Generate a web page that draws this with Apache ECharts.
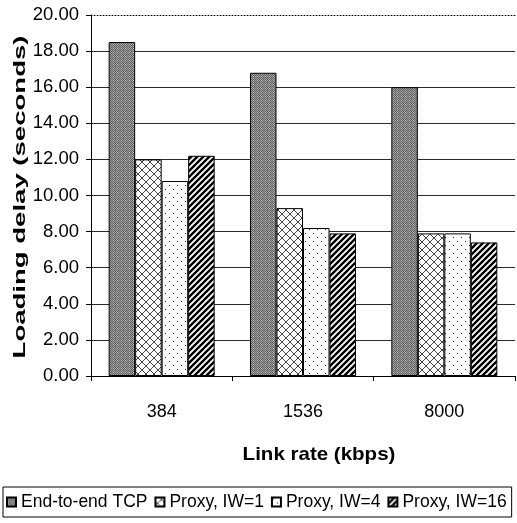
<!DOCTYPE html>
<html>
<head>
<meta charset="utf-8">
<script src="https://cdn.jsdelivr.net/npm/echarts@6/dist/echarts.min.js"></script>
<style>
html,body{margin:0;padding:0;background:#fff;}
#chart{width:517px;height:523px;}
</style>
</head>
<body>
<div id="chart"></div>
<script>
// ---- data ----
const categories = ['384', '1536', '8000'];
const seriesNames = ['End-to-end TCP', 'Proxy, IW=1', 'Proxy, IW=4', 'Proxy, IW=16'];
const endToEndTCP = [18.5, 16.8, 16.0];
const proxyIW1 = [12.0, 9.3, 7.9];
const proxyIW4 = [10.8, 8.2, 7.9];
const proxyIW16 = [12.2, 7.9, 7.4];
const yMin = 0, yMax = 20, yStep = 2;
const yTitle = 'Loading delay (seconds)';
const xTitle = 'Link rate (kbps)';

// ---- patterns ----
function makeTile(w, h, draw) {
  const c = document.createElement('canvas');
  c.width = w; c.height = h;
  const ctx = c.getContext('2d');
  ctx.fillStyle = '#fff';
  ctx.fillRect(0, 0, w, h);
  draw(ctx, w, h);
  return { image: c, repeat: 'repeat' };
}
const patDark = makeTile(4, 4, (ctx) => {
  for (let y = 0; y < 4; y++) for (let x = 0; x < 4; x++) {
    ctx.fillStyle = ((x + y) % 2 === 0) ? '#5e5e5e' : '#a0a0a0';
    ctx.fillRect(x, y, 1, 1);
  }
  ctx.fillStyle = '#d0d0d0';
  ctx.fillRect(1, 0, 1, 1);
});
const patCross = makeTile(8, 8, (ctx) => {
  ctx.strokeStyle = '#444';
  ctx.lineWidth = 1;
  ctx.beginPath();
  ctx.moveTo(0, 8); ctx.lineTo(8, 0);
  ctx.moveTo(0, 4); ctx.lineTo(4, 8);
  ctx.moveTo(4, 0); ctx.lineTo(8, 4);
  ctx.stroke();
});
const patDots = makeTile(8, 8, (ctx) => {
  ctx.fillStyle = '#222';
  ctx.fillRect(1, 1, 1, 1);
  ctx.fillRect(5, 5, 1, 1);
});
const patStripe = makeTile(6, 6, (ctx) => {
  ctx.strokeStyle = '#000';
  ctx.lineWidth = 2.4;
  ctx.beginPath();
  ctx.moveTo(-6, 6); ctx.lineTo(6, -6);
  ctx.moveTo(0, 6); ctx.lineTo(6, 0);
  ctx.moveTo(0, 12); ctx.lineTo(12, 0);
  ctx.stroke();
});
const patterns = [patDark, patCross, patDots, patStripe];
const values = [endToEndTCP, proxyIW1, proxyIW4, proxyIW16];

const FONT = '"Liberation Sans", Arial, sans-serif';

const chart = echarts.init(document.getElementById('chart'), null, { renderer: 'canvas' });
chart.setOption({
  animation: false,
  backgroundColor: '#fff',
  grid: { left: 91, top: 15, width: 424, height: 361, containLabel: false },
  xAxis: [{
    type: 'category',
    data: categories,
    axisLine: { lineStyle: { color: '#000', width: 1 } },
    axisTick: { show: true, length: 5, alignWithLabel: false, lineStyle: { color: '#000' } },
    axisLabel: { color: '#000', fontSize: 18, fontFamily: FONT, margin: 27 },
    splitLine: { show: false }
  }, {
    type: 'category',
    data: categories,
    position: 'top',
    axisLine: { show: true, lineStyle: { color: '#000', width: 1, type: [1, 2] } },
    axisTick: { show: false },
    axisLabel: { show: false },
    splitLine: { show: false }
  }],
  yAxis: {
    type: 'value',
    min: yMin, max: yMax, interval: yStep,
    axisLine: { show: true, lineStyle: { color: '#000', width: 1 } },
    axisTick: { show: true, length: 5, lineStyle: { color: '#000' } },
    axisLabel: { color: '#000', fontSize: 18.5, fontFamily: FONT, margin: 12,
      formatter: (v) => v.toFixed(2) },
    splitLine: { show: true, showMaxLine: false, lineStyle: { color: '#2a2a2a', width: 1 } }
  },
  legend: {
    data: seriesNames,
    left: 3, top: 487,
    orient: 'horizontal',
    padding: [6, 5, 6, 3],
    borderColor: '#000', borderWidth: 1,
    itemWidth: 9, itemHeight: 9, itemGap: 7,
    icon: 'rect',
    textStyle: { color: '#000', fontSize: 17.5, fontFamily: FONT }
  },
  graphic: [{
    type: 'text',
    x: 20, y: 197,
    rotation: Math.PI / 2,
    scaleX: 1.62,
    style: { text: yTitle, fill: '#000', font: 'bold 17px "Liberation Sans", Arial, sans-serif',
      align: 'center', verticalAlign: 'middle' }
  }, {
    type: 'text',
    x: 319, y: 455,
    scaleX: 1.08,
    style: { text: xTitle, fill: '#000', font: 'bold 19px "Liberation Sans", Arial, sans-serif',
      align: 'center', verticalAlign: 'middle' }
  }],
  series: seriesNames.map((name, i) => ({
    name: name,
    type: 'bar',
    xAxisIndex: 0,
    data: values[i],
    barGap: '0%',
    barCategoryGap: '25%',
    itemStyle: { color: patterns[i], borderColor: '#000', borderWidth: 1 }
  }))
});
</script>
</body>
</html>
